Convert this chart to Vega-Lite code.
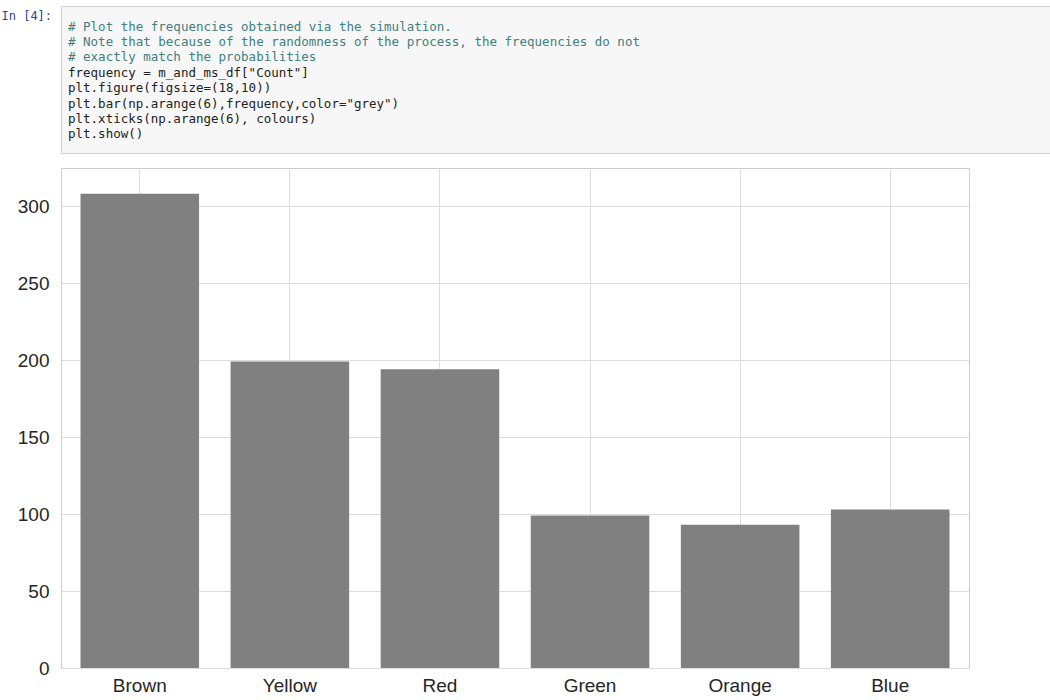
{
  "$schema": "https://vega.github.io/schema/vega-lite/v6.json",
  "padding": {"left": 0, "top": 5, "right": 0, "bottom": 0},
  "background": "white",
  "spacing": 13,
  "vconcat": [
    {
      "width": 990,
      "height": 147,
      "view": {"fill": "#f7f7f7", "stroke": "#cfcfcf"},
      "data": {
        "values": [
          {"line": 1, "col": 0, "kind": "comment", "text": "# Plot the frequencies obtained via the simulation."},
          {"line": 2, "col": 0, "kind": "comment", "text": "# Note that because of the randomness of the process, the frequencies do not"},
          {"line": 3, "col": 0, "kind": "comment", "text": "# exactly match the probabilities"},
          {"line": 4, "col": 0, "kind": "code", "text": "frequency = m_and_ms_df[\"Count\"]"},
          {"line": 5, "col": 0, "kind": "code", "text": "plt.figure(figsize=(18,10))"},
          {"line": 6, "col": 0, "kind": "code", "text": "plt.bar(np.arange(6),frequency,color=\"grey\")"},
          {"line": 7, "col": 0, "kind": "code", "text": "plt.xticks(np.arange(6), colours)"},
          {"line": 8, "col": 0, "kind": "code", "text": "plt.show()"}
        ]
      },
      "mark": {"type": "text", "align": "left", "baseline": "middle", "font": "DejaVu Sans Mono", "fontSize": 12.5, "dx": 7},
      "encoding": {
        "x": {"field": "col", "type": "quantitative", "scale": {"domain": [0, 1]}, "axis": null},
        "y": {
          "field": "line", "type": "ordinal",
          "scale": {"type": "point", "range": [13, 136]},
          "axis": {"title": "In [4]:", "labels": false, "ticks": false, "domain": false, "titleAngle": 0, "titleX": -60, "titleY": 9, "titleAlign": "left", "titleBaseline": "middle", "titleFont": "DejaVu Sans Mono", "titleFontSize": 12, "titleFontWeight": "normal", "titleColor": "#303F9F"}
        },
        "text": {"field": "text"},
        "color": {"field": "kind", "type": "nominal", "legend": null, "scale": {"domain": ["comment", "code"], "range": ["#408080", "#222222"]}},
        "fontStyle": {"condition": {"test": "datum.kind === 'comment'", "value": "italic"}, "value": "normal"}
      }
    },
    {
      "width": 908,
      "height": 500,
      "view": {"stroke": "#cccccc"},
      "data": {
        "values": [
          {"colour": "Brown", "count": 308},
          {"colour": "Yellow", "count": 199},
          {"colour": "Red", "count": 194},
          {"colour": "Green", "count": 99},
          {"colour": "Orange", "count": 93},
          {"colour": "Blue", "count": 103}
        ]
      },
      "mark": {"type": "bar", "color": "grey"},
      "encoding": {
        "x": {
          "field": "colour", "type": "nominal", "sort": null,
          "scale": {"paddingInner": 0.21, "paddingOuter": 0.13},
          "axis": {"title": null, "labelAngle": 0, "ticks": false, "domain": false, "grid": true, "bandPosition": 0.5, "gridColor": "#dcdcdc", "labelFont": "Liberation Sans", "labelFontSize": 19, "labelColor": "#262626", "labelPadding": 8}
        },
        "y": {
          "field": "count", "type": "quantitative",
          "scale": {"domain": [0, 324.7], "nice": false},
          "axis": {"title": null, "values": [0, 50, 100, 150, 200, 250, 300], "ticks": false, "domain": false, "gridColor": "#dcdcdc", "labelFont": "Liberation Sans", "labelFontSize": 19, "labelColor": "#262626", "labelPadding": 12}
        }
      }
    }
  ]
}
